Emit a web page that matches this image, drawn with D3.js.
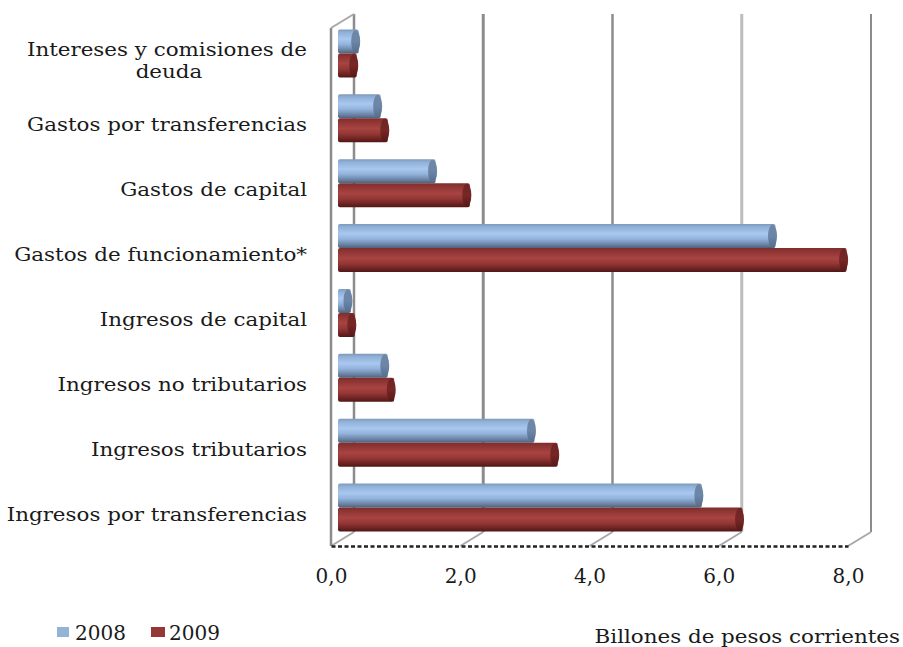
<!DOCTYPE html>
<html>
<head>
<meta charset="utf-8">
<script src="https://cdn.jsdelivr.net/npm/d3@7"></script>
<style>
  html, body { margin: 0; padding: 0; background: #fff; }
  svg { display: block; }
  text { font-family: "DejaVu Serif", serif; fill: #1a1a1a; }
</style>
</head>
<body>
<svg id="chart" width="903" height="647"></svg>
<script>
var categories = [
  "Intereses y comisiones de|deuda",
  "Gastos por transferencias",
  "Gastos de capital",
  "Gastos de funcionamiento*",
  "Ingresos de capital",
  "Ingresos no tributarios",
  "Ingresos tributarios",
  "Ingresos por transferencias"
];
var years = ["2008", "2009"];
var values2008 = [0.32, 0.66, 1.51, 6.77, 0.2, 0.77, 3.04, 5.63];
var values2009 = [0.29, 0.77, 2.04, 7.87, 0.26, 0.87, 3.4, 6.26];
var xTicks = [0, 2, 4, 6, 8];

var svg = d3.select("#chart");
var defs = svg.append("defs");

var x = d3.scaleLinear().domain([0, 8]).range([331, 848]);
var y = d3.scaleBand().domain(categories).range([21, 540]);
var ySeries = d3.scaleBand().domain(years).range([y.bandwidth() / 2 - 24, y.bandwidth() / 2 + 24]);

// the 3d box: offset of the back wall from the front axis
var depthX = 23, depthY = -14;
var barShift = 7;
// the original text is stretched sideways
var textStretch = 1.19;

function cylinderGradient(id, stops) {
  var g = defs.append("linearGradient").attr("id", id)
    .attr("x1", 0).attr("y1", 0).attr("x2", 0).attr("y2", 1);
  stops.forEach(function(s) {
    g.append("stop").attr("offset", s[0]).attr("stop-color", s[1]);
  });
}
cylinderGradient("body2008", [[0, "#7f99b8"], [0.12, "#8fb0d8"], [0.4, "#a9c8f0"], [0.62, "#93b3dc"], [0.85, "#6b84a6"], [1, "#4d6079"]]);
cylinderGradient("body2009", [[0, "#7d2e2d"], [0.15, "#8f3534"], [0.42, "#a84441"], [0.65, "#933735"], [0.85, "#6f2423"], [1, "#4f1716"]]);
cylinderGradient("cap2008", [[0, "#6f87a6"], [0.5, "#6c86a8"], [1, "#566d8b"]]);
cylinderGradient("cap2009", [[0, "#6e2423"], [0.5, "#762726"], [1, "#561817"]]);

// back wall gridlines
var gridColor = ["#8c8c8c", "#8c8c8c", "#8c8c8c", "#bdbdbd", "#8c8c8c"];
var gridWidth = [2.5, 3, 2.5, 3, 2];

svg.append("g").selectAll("line.grid")
  .data(xTicks)
  .enter().append("line")
    .attr("class", "grid")
    .attr("x1", function(d) { return x(d) + depthX; })
    .attr("x2", function(d) { return x(d) + depthX; })
    .attr("y1", 546 + depthY)
    .attr("y2", 28 + depthY)
    .attr("stroke", function(d, i) { return gridColor[i]; })
    .attr("stroke-width", function(d, i) { return gridWidth[i]; });

// floor ticks
svg.append("g").selectAll("line.floor")
  .data(xTicks)
  .enter().append("line")
    .attr("class", "floor")
    .attr("x1", function(d) { return x(d); })
    .attr("x2", function(d) { return x(d) + depthX; })
    .attr("y1", 546)
    .attr("y2", 546 + depthY)
    .attr("stroke", "#a8a8a8")
    .attr("stroke-width", 2);

// left wall
svg.append("line").attr("x1", x(0)).attr("x2", x(0)).attr("y1", 28).attr("y2", 546)
  .attr("stroke", "#8c8c8c").attr("stroke-width", 2.5);
svg.append("line").attr("x1", x(0)).attr("x2", x(0) + depthX).attr("y1", 28).attr("y2", 28 + depthY)
  .attr("stroke", "#a8a8a8").attr("stroke-width", 2);

// x axis
var axis = svg.append("g")
  .attr("transform", "translate(0,546)")
  .call(d3.axisBottom(x).tickValues(xTicks).tickSize(0).tickPadding(23)
    .tickFormat(function(d) { return d3.format(".1f")(d).replace(".", ","); }));
axis.select(".domain").attr("stroke", "#222").attr("stroke-width", 2.5).attr("stroke-dasharray", "4 2.5");
axis.selectAll("text").style("font-family", "DejaVu Serif").style("font-size", "20px").attr("fill", "#1a1a1a");

// bars
function drawSeries(year, vals) {
  var h = ySeries.bandwidth();
  var groups = svg.append("g").selectAll("g")
    .data(vals)
    .enter().append("g")
      .attr("transform", function(d, i) { return "translate(0," + (y(categories[i]) + ySeries(year)) + ")"; });

  groups.append("rect")
    .attr("x", x(0) + barShift)
    .attr("y", 0)
    .attr("rx", 2)
    .attr("width", function(d) { return x(d) - x(0); })
    .attr("height", h)
    .attr("fill", "url(#body" + year + ")");

  groups.append("ellipse")
    .attr("cx", function(d) { return x(d) + barShift - 3; })
    .attr("cy", h / 2)
    .attr("rx", 4.5)
    .attr("ry", h / 2 - 0.5)
    .attr("fill", "url(#cap" + year + ")");
}
drawSeries("2008", values2008);
drawSeries("2009", values2009);

// category labels
var labels = svg.append("g").selectAll("text")
  .data(categories)
  .enter().append("text")
    .attr("text-anchor", "end")
    .style("font-size", "18px")
    .attr("transform", function(d) { return "translate(307," + (y(d) + y.bandwidth() / 2 + 13) + ") scale(" + textStretch + ",1)"; });

labels.each(function(d) {
  var parts = d.split("|");
  var t = d3.select(this);
  if (parts.length == 1) { t.text(d); return; }
  t.append("tspan").attr("x", 0).attr("y", -10).text(parts[0]);
  t.append("tspan").attr("x", -88).attr("y", 12).text(parts[1]);
});

// legend
var legendColor = d3.scaleOrdinal().domain(years).range(["#95b3d7", "#953735"]);
var legendX = d3.scalePoint().domain(years).range([57, 151]);

var legend = svg.append("g").selectAll("g")
  .data(years)
  .enter().append("g")
    .attr("transform", function(d) { return "translate(" + legendX(d) + ",627)"; });
legend.append("rect")
  .attr("width", function(d) { return d == "2008" ? 12 : 14; })
  .attr("height", 10)
  .attr("fill", function(d) { return legendColor(d); });
legend.append("text")
  .attr("x", 18)
  .attr("y", 13)
  .style("font-size", "20px")
  .text(function(d) { return d; });

svg.append("text")
  .attr("text-anchor", "end")
  .attr("transform", "translate(900,643) scale(" + textStretch + ",1)")
  .style("font-size", "18px")
  .text("Billones de pesos corrientes");
</script>
</body>
</html>
